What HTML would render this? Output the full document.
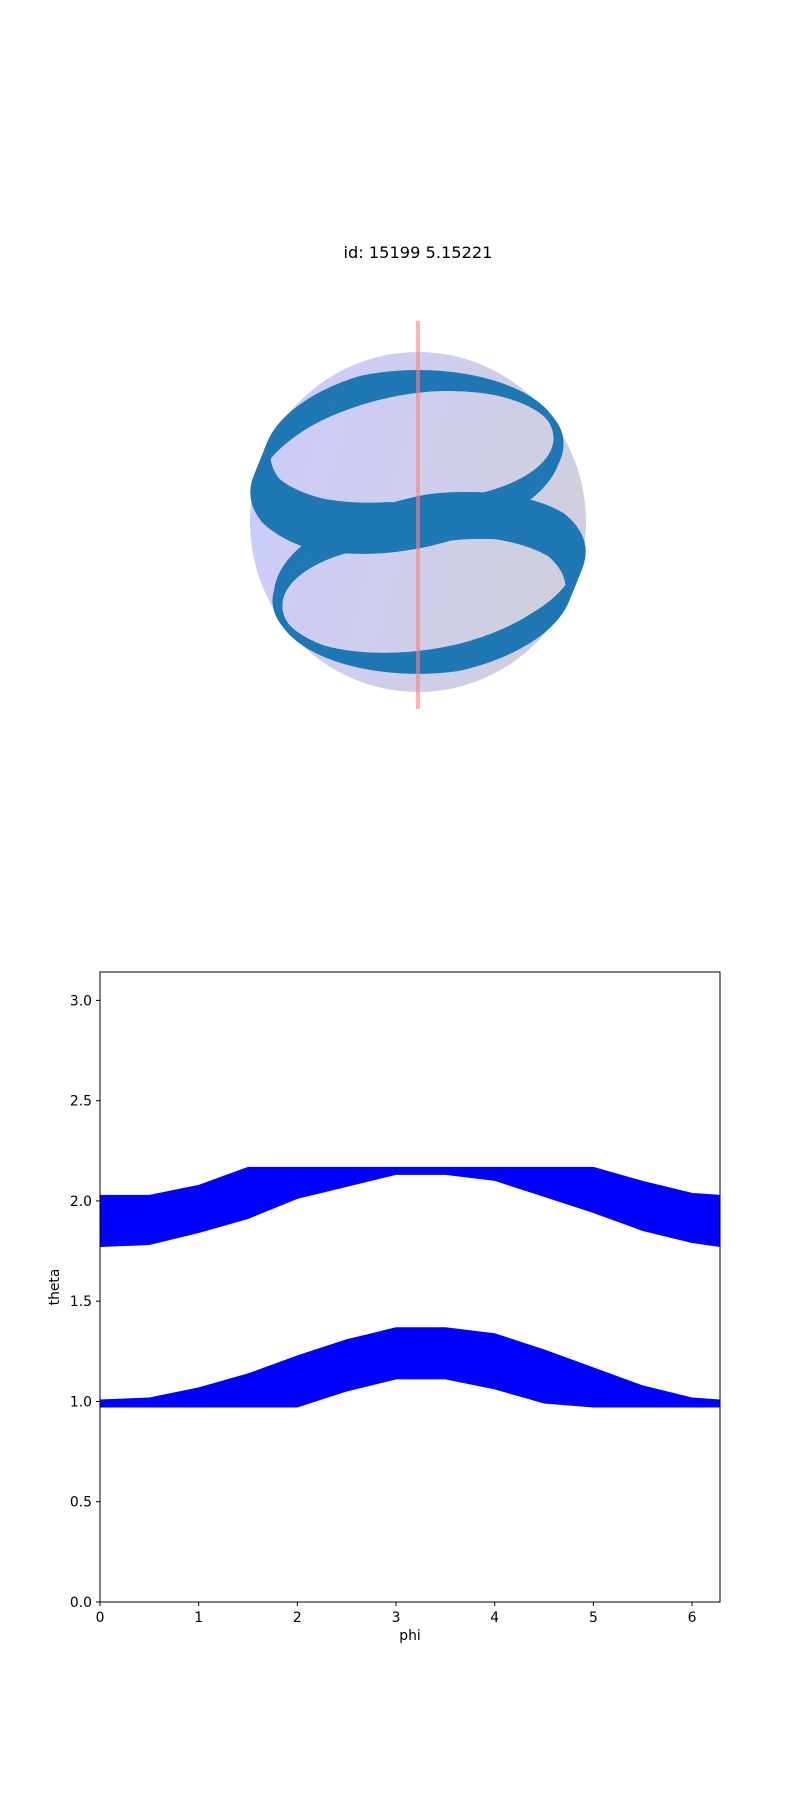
<!DOCTYPE html>
<html><head><meta charset="utf-8"><style>
body{margin:0;background:#fff;}
svg{display:block;font-family:"DejaVu Sans","Liberation Sans",sans-serif;}
</style></head><body>
<svg id="fig" width="800" height="1800" viewBox="0 0 800 1800">
<defs>
<linearGradient id="sg" x1="0" y1="0" x2="1" y2="0.3">
<stop offset="0" stop-color="#ccccff"/><stop offset="1" stop-color="#cfcfe0"/>
</linearGradient>
</defs>
<text x="418" y="258" font-size="16.2" text-anchor="middle">id: 15199 5.15221</text>
<g id="sp">
<ellipse cx="418" cy="522" rx="168" ry="170" fill="url(#sg)"/>
<g id="helix"></g>
<line x1="418" y1="321" x2="418" y2="709" stroke="#ff8080" stroke-opacity="0.6" stroke-width="4"/>
</g>
<g id="ax"></g>
</svg>
<script>
const phi = [0,0.5,1,1.5,2,2.5,3,3.5,4,4.5,5,5.5,6,6.283];
const upperTop = [2.03,2.03,2.08,2.17,2.17,2.17,2.17,2.17,2.17,2.17,2.17,2.10,2.04,2.03];
const upperBottom = [1.77,1.78,1.84,1.91,2.01,2.07,2.13,2.13,2.10,2.02,1.94,1.85,1.79,1.77];
const lowerTop = [1.01,1.02,1.07,1.14,1.23,1.31,1.37,1.37,1.34,1.26,1.17,1.08,1.02,1.01];
const lowerBottom = [0.97,0.97,0.97,0.97,0.97,1.05,1.11,1.11,1.06,0.99,0.97,0.97,0.97,0.97];
const xTicks = [0,1,2,3,4,5,6];
const yTicks = [0.0,0.5,1.0,1.5,2.0,2.5,3.0];

const NS='http://www.w3.org/2000/svg';
function mk(tag,attrs,parent){const e=document.createElementNS(NS,tag);for(const k in attrs)e.setAttribute(k,attrs[k]);parent.appendChild(e);return e;}
function interp(arr,p){
  for(let i=0;i<phi.length-1;i++){ if(p<=phi[i+1]){const t=(p-phi[i])/(phi[i+1]-phi[i]);return arr[i]+(arr[i+1]-arr[i])*t;} }
  return arr[arr.length-1];
}
const CX=418,CY=522,RAD=168,EL=28*Math.PI/180;
function proj(th,ph){
  return [CX+RAD*Math.sin(th)*Math.cos(ph), CY-RAD*(Math.cos(th)*Math.cos(EL)+Math.sin(th)*Math.sin(ph)*Math.sin(EL))];
}
const hx=document.getElementById('helix');
function helixBand(top,bot,name){
  const g=mk('g',{},hx);
  
  
  const N=400;
  for(let k=0;k<N;k++){
    const p0=2*Math.PI*k/N,p1=2*Math.PI*(k+1)/N;
    const a=proj(interp(top,p0),p0),b=proj(interp(top,p1),p1),c=proj(interp(bot,p1),p1),d=proj(interp(bot,p0),p0);
    mk('polygon',{points:[a,b,c,d].map(q=>q[0].toFixed(1)+','+q[1].toFixed(1)).join(' '),fill:'#1f77b4',stroke:'#1f77b4','stroke-width':6,'stroke-linejoin':'round'},g);
  }
}
helixBand(lowerTop,lowerBottom,'helix-upper-loop');
helixBand(upperTop,upperBottom,'helix-lower-loop');

const L=100,R=720,T=972,B=1602,XMAX=2*Math.PI,YMAX=Math.PI;
const sx=v=>L+(R-L)*v/XMAX, sy=v=>B-(B-T)*v/YMAX;
const ax=document.getElementById('ax');
function band(top,bot,name){
  let d='M'+phi.map((p,i)=>sx(p)+','+sy(top[i])).join(' L');
  for(let i=phi.length-1;i>=0;i--) d+=' L'+sx(phi[i])+','+sy(bot[i]);
  const e=mk('path',{d:d+' Z',fill:'#0000ff'},ax);
  
  
}
band(upperTop,upperBottom,'upper-band');
band(lowerTop,lowerBottom,'lower-band');
const fr=mk('rect',{x:L,y:T,width:R-L,height:B-T,fill:'none',stroke:'#000','stroke-width':1},ax);


xTicks.forEach(v=>{
  mk('line',{x1:sx(v),x2:sx(v),y1:B,y2:B+4,stroke:'#000'},ax);
  const t=mk('text',{x:sx(v),y:B+20,'font-size':13.9,'text-anchor':'middle'},ax);
  t.textContent=v;
  
  
});
yTicks.forEach(v=>{
  mk('line',{x1:L-4,x2:L,y1:sy(v),y2:sy(v),stroke:'#000'},ax);
  const t=mk('text',{x:L-8,y:sy(v)+5,'font-size':13.9,'text-anchor':'end'},ax);
  t.textContent=v.toFixed(1);
  
  
});
const xl=mk('text',{x:(L+R)/2,y:B+38,'font-size':13.9,'text-anchor':'middle'},ax);
xl.textContent='phi';


const yl=mk('text',{x:0,y:0,'font-size':13.9,'text-anchor':'middle',transform:`translate(59,${(T+B)/2}) rotate(-90)`},ax);
yl.textContent='theta';


</script>
</body></html>
